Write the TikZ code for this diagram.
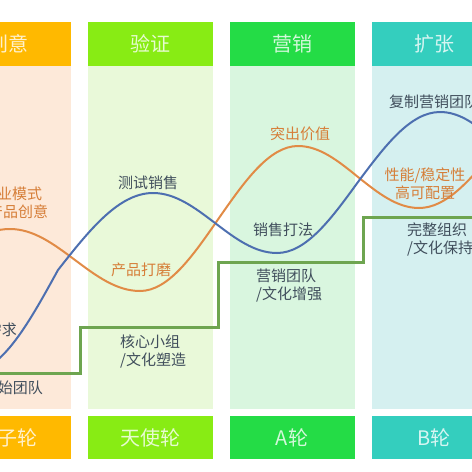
\documentclass[tikz,border=0pt]{standalone}
\usepackage{fontspec}
\setmainfont{Noto Sans CJK SC}
\usepackage{tikz}
\usetikzlibrary{positioning,calc}
\usepackage{xcolor}

\definecolor{seedHead}{RGB}{255, 185, 0}
\definecolor{seedBody}{RGB}{253, 233, 217}
\definecolor{angelHead}{RGB}{136, 236, 20}
\definecolor{angelBody}{RGB}{233, 249, 217}
\definecolor{roundAHead}{RGB}{36, 220, 70}
\definecolor{roundABody}{RGB}{217, 246, 223}
\definecolor{roundBHead}{RGB}{52, 206, 190}
\definecolor{roundBBody}{RGB}{213, 240, 240}
\definecolor{salesBlue}{RGB}{77, 111, 176}
\definecolor{productOrange}{RGB}{225, 139, 70}
\definecolor{teamGreen}{RGB}{110, 165, 80}
\definecolor{labelDark}{RGB}{64, 78, 92}
\definecolor{labelOrange}{RGB}{214, 126, 56}

\tikzset{
    headbox/.style={minimum width=125pt,minimum height=44pt,inner sep=0pt,
        text=white,text opacity=0.8,font=\fontsize{20}{24}\selectfont},
    bodybox/.style={minimum width=125pt,minimum height=343pt,inner sep=0pt},
    darklbl/.style={inner sep=0pt,text=labelDark,font=\fontsize{15}{18}\selectfont},
    orangelbl/.style={inner sep=0pt,text=labelOrange,font=\fontsize{15}{18}\selectfont},
    curve/.style={line width=2pt,line cap=round}
}

\begin{document}
\begin{tikzpicture}[x=1pt,y=-1pt]
        \useasboundingbox (0,0) rectangle (472,472);
        \clip (0,0) rectangle (472,472);

        % Column bodies
        \node[bodybox,fill=seedBody] (bodySeed) at (8,237.5) {};
        \node[bodybox,fill=angelBody] (bodyAngel) at (150,237.5) {};
        \node[bodybox,fill=roundABody] (bodyA) at (292,237.5) {};
        \node[bodybox,fill=roundBBody] (bodyB) at (434,237.5) {};

        % Stage headers
        \node[headbox,fill=seedHead] (stageIdea) at (8,44) {创意};
        \node[headbox,fill=angelHead] (stageCheck) at (150,44) {验证};
        \node[headbox,fill=roundAHead] (stageMarket) at (292,44) {营销};
        \node[headbox,fill=roundBHead] (stageGrow) at (434,44) {扩张};

        % Funding rounds
        \node[headbox,fill=seedHead,minimum height=43pt] (roundSeed) at (8,437.5) {种子轮};
        \node[headbox,fill=angelHead,minimum height=43pt] (roundAngel) at (150,437.5) {天使轮};
        \node[headbox,fill=roundAHead,minimum height=43pt] (roundA) at (292,437.5) {A轮};
        \node[headbox,fill=roundBHead,minimum height=43pt] (roundB) at (434,437.5) {B轮};

        % Team staircase
        \draw[teamGreen,line width=3pt] (-60,373) -- (80,373) -- (80,327) -- (218,327)
            -- (218,262) -- (363,262) -- (363,217) -- (500,217);

        % Product curve
        \draw[curve,productOrange] (-60,262) sin (10,229) cos (75,260) sin (140,291)
            cos (219,218) sin (298,146) cos (358,177) sin (419,208) cos (495,150);

        % Sales curve
        \draw[curve,salesBlue] (-30,372) cos (58,270) sin (153,193) cos (215,223)
            sin (277,253) cos (358,182) sin (440,112) cos (540,200);

        % Curve labels
        \node[orangelbl,anchor=west,align=left] (bizIdea) at (-18,204) {商业模式\\/产品创意};
        \node[darklbl,anchor=east] (userNeed) at (17,330) {用户需求};
        \node[darklbl] (testSales) at (148,183) {测试销售};
        \node[orangelbl] (polish) at (141,270) {产品打磨};
        \node[orangelbl] (value) at (300,134) {突出价值};
        \node[darklbl] (salesPlay) at (283,230) {销售打法};
        \node[orangelbl,align=center] (perf) at (425,184) {性能/稳定性\\高可配置};
        \node[darklbl,anchor=west] (copyTeam) at (389,102) {复制营销团队};

        % Team labels
        \node[darklbl,anchor=east] (founders) at (43,388) {创始团队};
        \node[darklbl,anchor=west,align=left] (coreTeam) at (120,352) {核心小组\\/文化塑造};
        \node[darklbl,anchor=west,align=left] (mktTeam) at (256,286) {营销团队\\/文化增强};
        \node[darklbl,anchor=west,align=left] (fullOrg) at (407,239) {完整组织\\/文化保持};
    \end{tikzpicture}
\end{document}
